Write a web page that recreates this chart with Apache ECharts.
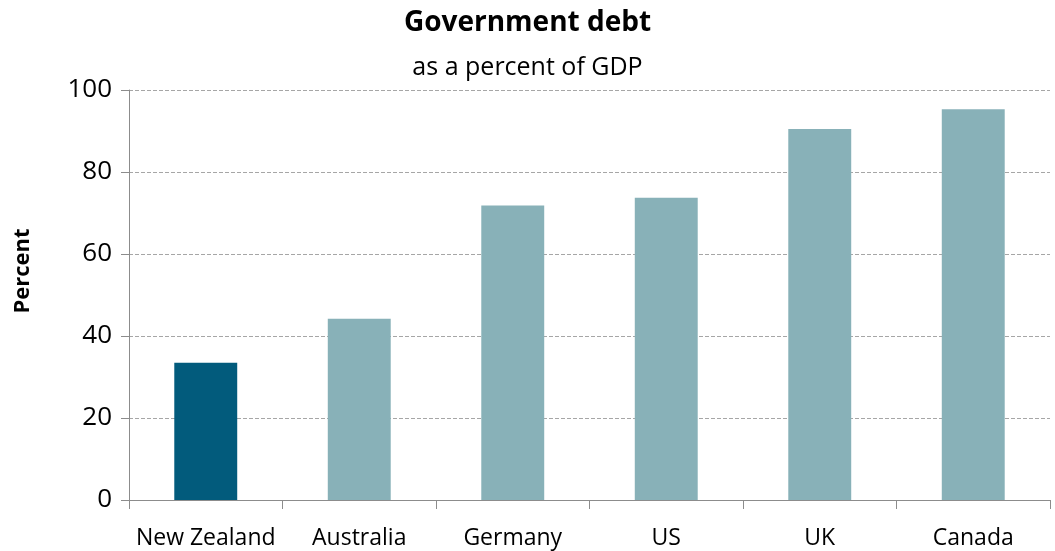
<!DOCTYPE html>
<html>
<head>
<meta charset="utf-8">
<script src="https://cdn.jsdelivr.net/npm/echarts@6/dist/echarts.min.js"></script>
<style>
  html, body { margin: 0; padding: 0; background: #fff; }
  #chart { width: 1055px; height: 551px; }
</style>
</head>
<body>
<div id="chart"></div>
<script>
// data
const countries = ['New Zealand', 'Australia', 'Germany', 'US', 'UK', 'Canada'];
const debtPct = [33.5, 44.2, 71.8, 73.7, 90.5, 95.3];
const highlight = 'New Zealand';

const font = '"Open Sans", "Liberation Sans", sans-serif';

const chart = echarts.init(document.getElementById('chart'));

const option = {
  animation: false,
  title: {
    text: 'Government debt',
    subtext: 'as a percent of GDP',
    left: 'center',
    top: 4,
    itemGap: 18,
    textStyle: { fontFamily: font, fontSize: 28, fontWeight: 'bold', color: '#000' },
    subtextStyle: { fontFamily: font, fontSize: 25, color: '#000' }
  },
  grid: { left: 129, right: 5, top: 90, bottom: 51 },
  xAxis: {
    type: 'category',
    data: countries,
    axisLine: { lineStyle: { color: '#8c8c8c', width: 1 } },
    axisTick: { show: true, length: 9, lineStyle: { color: '#8c8c8c' } },
    axisLabel: { fontFamily: font, fontSize: 23, color: '#000', margin: 27, interval: 0 }
  },
  yAxis: {
    type: 'value',
    min: 0,
    max: 100,
    interval: 20,
    name: 'Percent',
    nameLocation: 'middle',
    nameGap: 95,
    nameTextStyle: { fontFamily: font, fontSize: 22, fontWeight: 'bold', color: '#000', padding: [0, 0, 0, 48] },
    axisLine: { show: true, lineStyle: { color: '#8c8c8c' } },
    axisTick: { show: true, length: 8, lineStyle: { color: '#8c8c8c' } },
    axisLabel: { fontFamily: font, fontSize: 26, color: '#000', margin: 17 },
    splitLine: { lineStyle: { color: '#a6a6a6', type: [4, 2], width: 1 } }
  },
  series: [{
    type: 'bar',
    barWidth: '41%',
    data: countries.map((c, i) => ({
      value: debtPct[i],
      itemStyle: { color: c === highlight ? '#025b7c' : '#88b1b8' }
    }))
  }]
};

chart.setOption(option);
</script>
</body>
</html>
